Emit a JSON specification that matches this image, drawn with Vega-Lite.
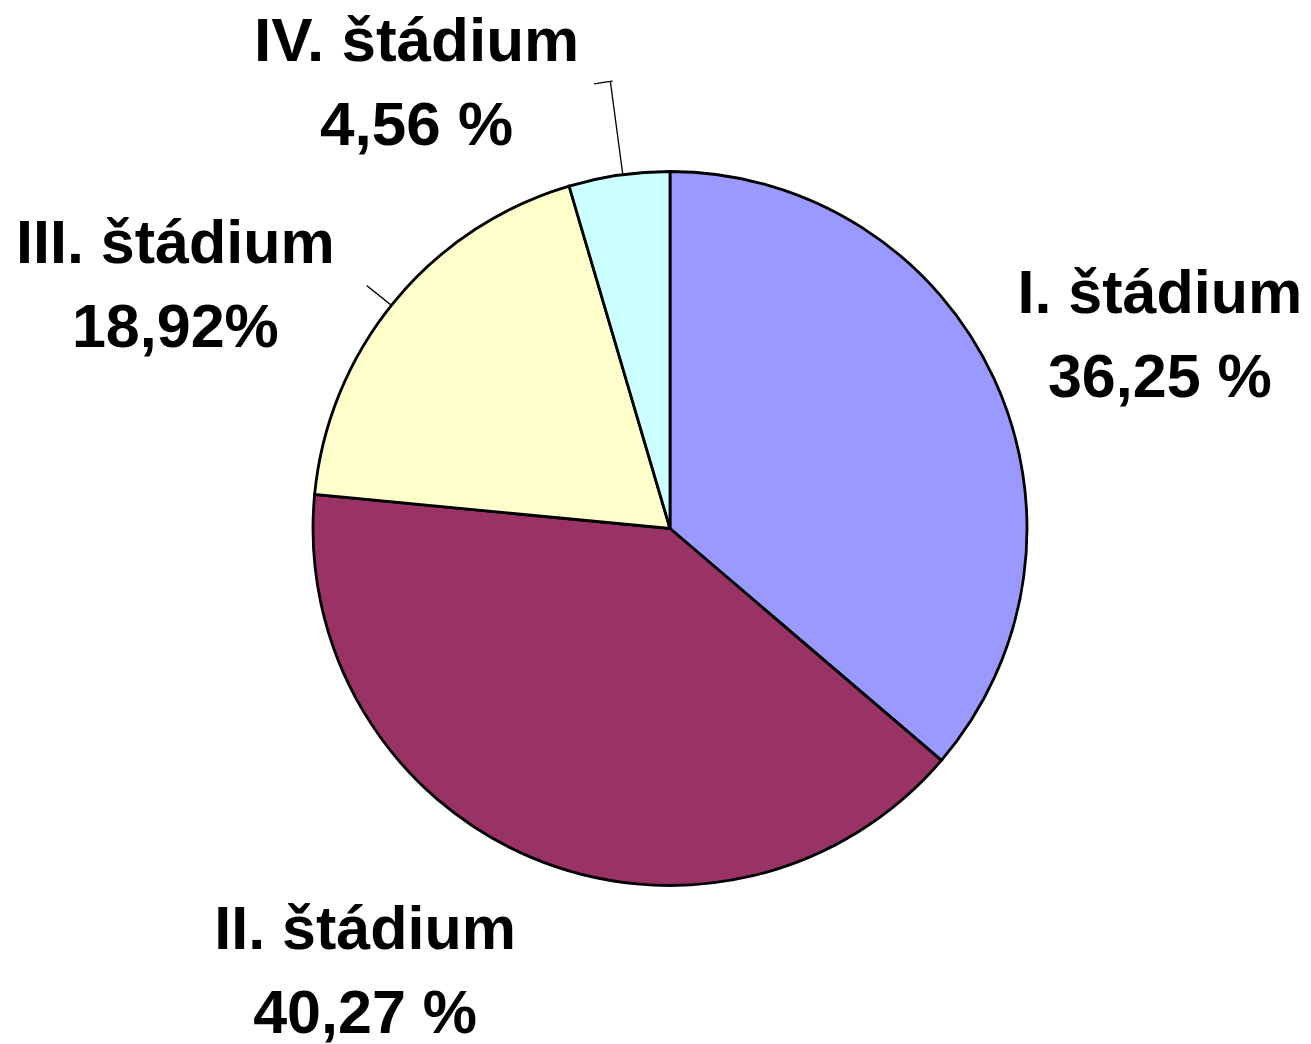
{
  "$schema": "https://vega.github.io/schema/vega-lite/v6.json",
  "width": 1340,
  "height": 1057,
  "autosize": "none",
  "padding": 0,
  "background": "white",
  "config": {"view": {"stroke": null}},
  "data": {
    "values": [
      {"stage": "I. štádium", "value": 36.25, "order": 1, "label": ["I. štádium", "36,25 %"]},
      {"stage": "II. štádium", "value": 40.27, "order": 2, "label": ["II. štádium", "40,27 %"]},
      {"stage": "III. štádium", "value": 18.92, "order": 3, "label": ["III. štádium", "18,92%"]},
      {"stage": "IV. štádium", "value": 4.56, "order": 4, "label": ["IV. štádium", "4,56 %"]}
    ]
  },
  "transform": [
    {"stack": "value", "groupby": [], "sort": [{"field": "order", "order": "ascending"}], "as": ["v0", "v1"]}
  ],
  "layer": [
    {
      "mark": {"type": "arc", "radius": 357, "stroke": "black", "strokeWidth": 2.8},
      "encoding": {
        "theta": {"field": "v0", "type": "quantitative", "scale": {"domain": [0, 100]}},
        "theta2": {"field": "v1"},
        "color": {
          "field": "stage",
          "type": "nominal",
          "scale": {
            "domain": ["I. štádium", "II. štádium", "III. štádium", "IV. štádium"],
            "range": ["#9999FF", "#993366", "#FFFFCC", "#CCFFFF"]
          },
          "legend": null
        }
      }
    },
    {
      "mark": {"type": "arc", "radius": 451, "radius2": 358, "thetaOffset": 0.1539, "theta2Offset": -0.1326, "fillOpacity": 0, "stroke": "black", "strokeWidth": 1.3},
      "encoding": {
        "theta": {"field": "v0", "type": "quantitative"},
        "theta2": {"field": "v1"},
        "strokeOpacity": {"condition": {"test": "datum.order === 4", "value": 1}, "value": 0}
      }
    },
    {
      "mark": {"type": "arc", "radius": 451, "radius2": 451, "thetaOffset": 0.1173, "theta2Offset": -0.1274, "fillOpacity": 0, "stroke": "black", "strokeWidth": 1.3},
      "encoding": {
        "theta": {"field": "v0", "type": "quantitative"},
        "theta2": {"field": "v1"},
        "strokeOpacity": {"condition": {"test": "datum.order === 4", "value": 1}, "value": 0}
      }
    },
    {
      "mark": {"type": "arc", "radius": 388, "radius2": 358, "thetaOffset": 0.580, "theta2Offset": -0.6088, "fillOpacity": 0, "stroke": "black", "strokeWidth": 1.3},
      "encoding": {
        "theta": {"field": "v0", "type": "quantitative"},
        "theta2": {"field": "v1"},
        "strokeOpacity": {"condition": {"test": "datum.order === 3", "value": 1}, "value": 0}
      }
    },
    {
      "mark": {"type": "text", "radius": 535, "dx": 4, "dy": 8, "font": "Liberation Sans", "fontWeight": "bold", "fontSize": 61, "lineHeight": 84, "align": "center", "baseline": "alphabetic", "color": "black"},
      "encoding": {
        "theta": {"field": "value", "type": "quantitative", "stack": true},
        "order": {"field": "order", "type": "quantitative", "sort": "ascending"},
        "text": {"condition": {"test": "datum.order === 1", "field": "label", "type": "nominal"}, "value": ""}
      }
    },
    {
      "mark": {"type": "text", "radius": 535, "dx": -96, "dy": -72, "font": "Liberation Sans", "fontWeight": "bold", "fontSize": 61, "lineHeight": 84, "align": "center", "baseline": "alphabetic", "color": "black"},
      "encoding": {
        "theta": {"field": "value", "type": "quantitative", "stack": true},
        "order": {"field": "order", "type": "quantitative", "sort": "ascending"},
        "text": {"condition": {"test": "datum.order === 2", "field": "label", "type": "nominal"}, "value": ""}
      }
    },
    {
      "mark": {"type": "text", "radius": 535, "dx": -82, "dy": 75, "font": "Liberation Sans", "fontWeight": "bold", "fontSize": 61, "lineHeight": 84, "align": "center", "baseline": "alphabetic", "color": "black"},
      "encoding": {
        "theta": {"field": "value", "type": "quantitative", "stack": true},
        "order": {"field": "order", "type": "quantitative", "sort": "ascending"},
        "text": {"condition": {"test": "datum.order === 3", "field": "label", "type": "nominal"}, "value": ""}
      }
    },
    {
      "mark": {"type": "text", "radius": 535, "dx": -177, "dy": 62, "font": "Liberation Sans", "fontWeight": "bold", "fontSize": 62, "lineHeight": 84, "align": "center", "baseline": "alphabetic", "color": "black"},
      "encoding": {
        "theta": {"field": "value", "type": "quantitative", "stack": true},
        "order": {"field": "order", "type": "quantitative", "sort": "ascending"},
        "text": {"condition": {"test": "datum.order === 4", "field": "label", "type": "nominal"}, "value": ""}
      }
    }
  ]
}
